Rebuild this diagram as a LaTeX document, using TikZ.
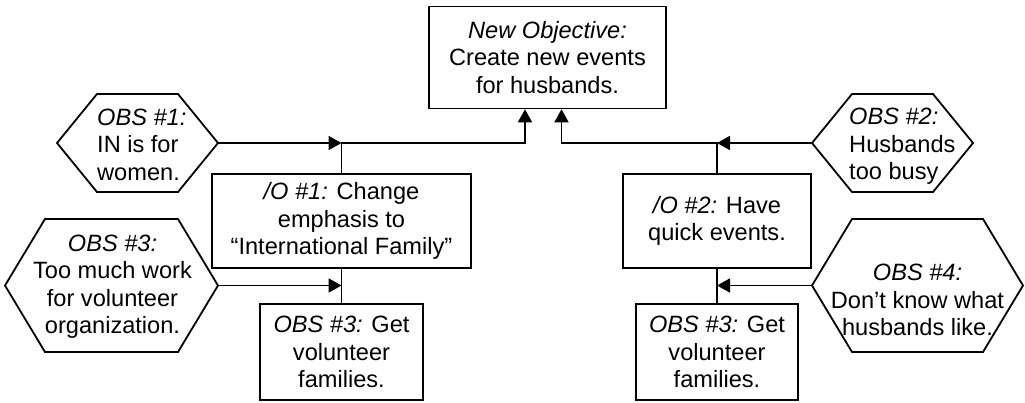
\documentclass[tikz,border=0pt]{standalone}
\usepackage{fontspec}
\setmainfont{Liberation Sans}
\usetikzlibrary{arrows.meta}

% Hexagonal frame around an empty placeholder node (pointed left and right ends)
\newcommand\hexframe[1]{%
  \draw[frame] (#1.west) -- ([xshift=40pt]#1.north west) -- ([xshift=-40pt]#1.north east)
    -- (#1.east) -- ([xshift=-40pt]#1.south east) -- ([xshift=40pt]#1.south west) -- cycle;}

\begin{document}
\begin{tikzpicture}[x=1pt,y=-1pt,
  frame/.style={line width=1.8pt,line join=miter},
  objbox/.style={draw,line width=1.8pt,inner sep=0pt,align=center},
  hexslot/.style={inner sep=0pt,outer sep=0pt},
  hextext/.style={inner sep=0pt},
  link/.style={line width=1.8pt},
  arr/.style={line width=1.8pt,-{Triangle[length=13pt,width=14pt]}},
  every node/.style={font=\fontsize{23.6pt}{27.5pt}\selectfont}]
\useasboundingbox (0,0) rectangle (1025,402);

% Objective and sub-objective boxes
\node[objbox,minimum width=237pt,minimum height=102pt] (top) at (547.5,57.4)
  {\textit{New Objective:}\\Create new events\\for husbands.};
\node[objbox,minimum width=259pt,minimum height=94pt] (o1) at (341.5,221)
  {\textit{/O \#1:} Change\\emphasis to\\“International Family”};
\node[objbox,minimum width=163pt,minimum height=96pt] (g1) at (341.5,352)
  {\textit{OBS \#3:} Get\\volunteer\\families.};
\node[objbox,minimum width=188pt,minimum height=94pt] (o2) at (717,221)
  {\textit{/O \#2:} Have\\quick events.};
\node[objbox,minimum width=162pt,minimum height=96pt] (g2) at (717,352)
  {\textit{OBS \#3:} Get\\volunteer\\families.};

% Obstacle hexagons
\node[hexslot,minimum width=161pt,minimum height=98pt] (h1) at (137.5,143) {};
\node[hexslot,minimum width=161pt,minimum height=98pt] (h2) at (892.5,143) {};
\node[hexslot,minimum width=213pt,minimum height=133pt] (h3) at (111.5,285.5) {};
\node[hexslot,minimum width=211pt,minimum height=133pt] (h4) at (917.5,285.5) {};
\hexframe{h1}
\hexframe{h2}
\hexframe{h3}
\hexframe{h4}

\node[hextext,align=left,anchor=west] (h1t) at (97,144.5)
  {\textit{OBS \#1:}\\IN is for\\women.};
\node[hextext,align=left,anchor=west] (h2t) at (849,146.5)
  {\textit{OBS \#2:}\\Husbands\\too busy};
\node[hextext,align=center] (h3t) at (112.5,286.7)
  {\textit{OBS \#3:}\\Too much work\\for volunteer\\organization.};
\node[hextext,align=center] (h4t) at (917.5,300)
  {\textit{OBS \#4:}\\Don’t know what\\husbands like.};

% Junction points on the connector lines
\coordinate (j1) at (o1.north |- h1.east);
\coordinate (j2) at (o2.north |- h2.west);
\coordinate (j3) at (o1.south |- h3.east);
\coordinate (j4) at (o2.south |- h4.west);

% Sub-objectives up to the new objective
\draw[arr] (o1.north) -- (j1) -| ([xshift=-22.5pt]top.south);
\draw[arr] (o2.north) -- (j2) -| ([xshift=14pt]top.south);
\draw[link] (o1.south) -- (g1.north);
\draw[link] (o2.south) -- (g2.north);

% Obstacles feeding into the lines
\draw[arr] (h1.east) -- (j1);
\draw[arr] (h2.west) -- (j2);
\draw[arr] (h3.east) -- (j3);
\draw[arr] (h4.west) -- (j4);
\end{tikzpicture}
\end{document}
